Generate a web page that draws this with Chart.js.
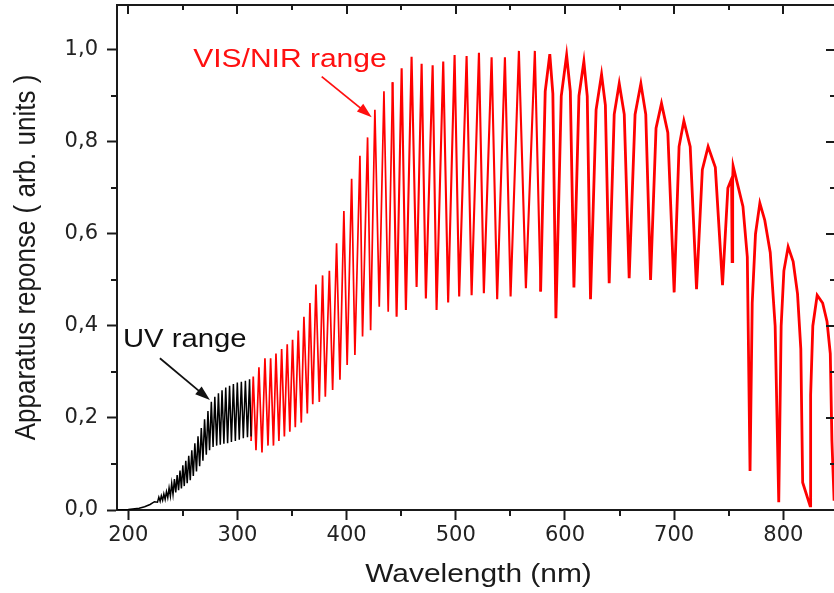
<!DOCTYPE html>
<html>
<head>
<meta charset="utf-8">
<script src="https://cdn.jsdelivr.net/npm/chart.js@4.4.0/dist/chart.umd.min.js"></script>
<style>
  html, body { margin: 0; padding: 0; background: #fff; }
  canvas { display: block; }
</style>
</head>
<body>
<canvas id="spectrum" width="834" height="593"></canvas>
<script>
"use strict"

// UV part (black), alternating fringe minima / maxima
const uvWavelength = [190, 200, 210, 215, 220, 224,
    226.8, 228, 229.2, 230.3, 231.5, 232.6, 233.8, 235, 236.2, 237.4,
    238.6, 239.8, 241, 242.3, 243.5, 244.8, 246.1, 247.4, 248.7, 250,
    251.3, 252.7, 254, 255.4, 256.8, 258.2, 259.6, 261, 262.5, 263.9,
    265.4, 266.9, 268.4, 269.9, 271.5, 273, 274.5, 276.1, 277.7, 279.3,
    281, 282.6, 284.3, 285.9, 287.6, 289.3, 291, 292.8, 294.5, 296.3,
    298.1, 299.9, 301.7, 303.6, 305.4, 307.3, 309.2, 311.1, 312.5];
const uvResponse = [0.0, 0.001, 0.004, 0.007, 0.012, 0.018,
    0.017, 0.028, 0.019, 0.031, 0.021, 0.035, 0.023, 0.04, 0.027, 0.048,
    0.03, 0.058, 0.034, 0.067, 0.038, 0.076, 0.043, 0.086, 0.047, 0.097,
    0.052, 0.107, 0.058, 0.118, 0.065, 0.13, 0.074, 0.145, 0.084, 0.16,
    0.095, 0.178, 0.107, 0.197, 0.12, 0.215, 0.13, 0.235, 0.137, 0.246,
    0.14, 0.254, 0.142, 0.26, 0.144, 0.266, 0.145, 0.27, 0.148, 0.274,
    0.15, 0.277, 0.153, 0.279, 0.156, 0.281, 0.158, 0.284, 0.16];

// VIS/NIR part (red)
const visWavelength = [
    312.5, 314.5, 317, 319.7, 322.5, 325.2, 328, 330.4, 333, 335.3,
    338, 340.5, 343, 345.6, 348, 350.5, 353, 355.7, 358.5, 360.9,
    364, 366.4, 369, 371.9, 375, 378, 380.5, 384.2, 387.2, 390.8,
    393.9, 397.5, 400.5, 404.6, 407.6, 412.2, 414.6, 419.2, 422, 425.9,
    429.9, 434.2, 438.1, 442.1, 445.8, 450.4, 454.3, 459.5, 464.1, 468.7,
    472.6, 478.8, 482.4, 488.5, 493, 498.9, 503.1, 509.9, 514.5, 521.2,
    525.7, 532.8, 537.9, 545, 550.2, 557.8, 564.2, 572.4, 577.7, 581.9,
    586.1, 588.9, 591.7, 596.6, 601.5, 604.9, 608.2, 612.8, 617.3, 620.4,
    623.4, 628.5, 633.5, 637, 640.5, 645.1, 649.7, 654.3, 658.8, 664.2,
    669.5, 674, 678.4, 683.4, 688.4, 694.2, 700, 704.5, 708.9, 714.7,
    720.5, 725.8, 731.1, 737.7, 744.3, 749.2, 752.6, 753.1, 753.6, 754,
    763, 767, 769.5, 771.5, 774.5, 778.5, 783, 788, 792.5, 795.8,
    798, 800.5, 804.4, 809, 813, 816, 817.7, 824.5, 825, 827,
    831, 836, 840, 843, 844.5, 846.5];
const visResponse = [
    0.15, 0.29, 0.13, 0.31, 0.125, 0.33, 0.14, 0.33, 0.14, 0.34,
    0.15, 0.35, 0.16, 0.36, 0.17, 0.37, 0.18, 0.39, 0.19, 0.42,
    0.21, 0.45, 0.23, 0.49, 0.235, 0.51, 0.246, 0.52, 0.261, 0.58,
    0.283, 0.65, 0.315, 0.72, 0.337, 0.77, 0.377, 0.81, 0.391, 0.87,
    0.442, 0.91, 0.431, 0.93, 0.42, 0.96, 0.435, 0.985, 0.485, 0.97,
    0.46, 0.967, 0.435, 0.975, 0.451, 0.989, 0.464, 0.987, 0.467, 0.994,
    0.471, 0.984, 0.458, 0.984, 0.464, 0.998, 0.482, 0.998, 0.475, 0.91,
    0.991, 0.905, 0.417, 0.90, 0.989, 0.91, 0.484, 0.90, 0.975, 0.90,
    0.458, 0.87, 0.947, 0.88, 0.493, 0.86, 0.927, 0.86, 0.504, 0.86,
    0.927, 0.86, 0.50, 0.83, 0.884, 0.82, 0.473, 0.79, 0.846, 0.79,
    0.48, 0.74, 0.79, 0.745, 0.489, 0.70, 0.72, 0.54, 0.72, 0.748,
    0.66, 0.55, 0.085, 0.45, 0.60, 0.667, 0.63, 0.56, 0.40, 0.017,
    0.40, 0.52, 0.572, 0.54, 0.47, 0.35, 0.06, 0.009, 0.25, 0.40,
    0.467, 0.45, 0.41, 0.34, 0.15, 0.02];

const xTicks = [200, 300, 400, 500, 600, 700, 800];
const xMinorTicks = [250, 350, 450, 550, 650, 750];
const yTicks = [0, 0.2, 0.4, 0.6, 0.8, 1.0];
const yMinorTicks = [0.1, 0.3, 0.5, 0.7, 0.9];

const xTitle = "Wavelength (nm)";
const yTitle = "Apparatus reponse ( arb. units )";

// annotation anchors in data units
const uvNote = { text: "UV range", x: 195.1, y: 0.355, from: [229, 0.33], to: [274.8, 0.239] };
const visNote = { text: "VIS/NIR range", x: 259.5, y: 0.964, from: [377.2, 0.942], to: [423, 0.854] };

const axisColor = '#1a1a1a';

function toPoints(xs, ys) {
    return xs.map((v, i) => ({ x: v, y: ys[i] }));
}

// text in the picture is drawn a bit wide, so stretch it horizontally
function wideText(ctx, text, x, y, sx, font, color, align) {
    ctx.save();
    ctx.translate(x, y);
    ctx.scale(sx, 1);
    ctx.font = font;
    ctx.fillStyle = color;
    ctx.textAlign = align || 'left';
    ctx.textBaseline = 'alphabetic';
    ctx.fillText(text, 0, 0);
    ctx.restore();
}

function arrow(ctx, x1, y1, x2, y2, color) {
    let ang = Math.atan2(y2 - y1, x2 - x1);
    let len = 15, half = 5;
    ctx.save();
    ctx.strokeStyle = color;
    ctx.fillStyle = color;
    ctx.lineWidth = 1.8;
    ctx.beginPath();
    ctx.moveTo(x1, y1);
    ctx.lineTo(x2 - Math.cos(ang) * len * 0.8, y2 - Math.sin(ang) * len * 0.8);
    ctx.stroke();
    ctx.beginPath();
    ctx.moveTo(x2, y2);
    ctx.lineTo(x2 - Math.cos(ang) * len - Math.sin(ang) * half, y2 - Math.sin(ang) * len + Math.cos(ang) * half);
    ctx.lineTo(x2 - Math.cos(ang) * len + Math.sin(ang) * half, y2 - Math.sin(ang) * len - Math.cos(ang) * half);
    ctx.closePath();
    ctx.fill();
    ctx.restore();
}

const framePlugin = {
    id: 'frame',
    afterDraw(chart) {
        const ctx = chart.ctx;
        const a = chart.chartArea;
        const xs = chart.scales.x, ys = chart.scales.y;
        ctx.save();
        ctx.strokeStyle = axisColor;
        ctx.lineWidth = 2;
        ctx.beginPath();
        // top and right border
        ctx.moveTo(a.left - 1, a.top);
        ctx.lineTo(a.right + 1, a.top);
        ctx.moveTo(a.right + 1, a.top);
        ctx.lineTo(a.right + 1, a.bottom);
        // top ticks inward, bottom minor ticks outward
        xTicks.forEach(v => {
            let px = Math.round(xs.getPixelForValue(v));
            ctx.moveTo(px, a.top); ctx.lineTo(px, a.top + 9);
        });
        xMinorTicks.forEach(v => {
            let px = Math.round(xs.getPixelForValue(v));
            ctx.moveTo(px, a.top); ctx.lineTo(px, a.top + 5);
            ctx.moveTo(px, a.bottom); ctx.lineTo(px, a.bottom + 6);
        });
        // right ticks inward, left minor ticks outward
        yTicks.forEach(v => {
            let py = Math.round(ys.getPixelForValue(v));
            ctx.moveTo(a.right, py); ctx.lineTo(a.right - 8, py);
        });
        yMinorTicks.forEach(v => {
            let py = Math.round(ys.getPixelForValue(v));
            ctx.moveTo(a.right, py); ctx.lineTo(a.right - 4, py);
            ctx.moveTo(a.left, py); ctx.lineTo(a.left - 6, py);
        });
        ctx.stroke();

        // axis titles
        wideText(ctx, xTitle, (a.left + a.right) / 2 + 3, 582, 1.15, '26px "Liberation Sans", Arial, sans-serif', axisColor, 'center');
        ctx.save();
        ctx.translate(35, (a.top + a.bottom) / 2);
        ctx.scale(1.17, 1);
        ctx.rotate(-Math.PI / 2);
        ctx.font = '26px "Liberation Sans", Arial, sans-serif';
        ctx.fillStyle = axisColor;
        ctx.textAlign = 'center';
        ctx.textBaseline = 'alphabetic';
        ctx.fillText(yTitle, 0, 0);
        ctx.restore();

        // notes with arrows
        wideText(ctx, uvNote.text, xs.getPixelForValue(uvNote.x), ys.getPixelForValue(uvNote.y), 1.17,
            '25px "Liberation Sans", Arial, sans-serif', '#111', 'left');
        arrow(ctx, xs.getPixelForValue(uvNote.from[0]), ys.getPixelForValue(uvNote.from[1]),
            xs.getPixelForValue(uvNote.to[0]), ys.getPixelForValue(uvNote.to[1]), '#111');
        wideText(ctx, visNote.text, xs.getPixelForValue(visNote.x), ys.getPixelForValue(visNote.y), 1.2,
            '25px "Liberation Sans", Arial, sans-serif', '#ff1010', 'left');
        arrow(ctx, xs.getPixelForValue(visNote.from[0]), ys.getPixelForValue(visNote.from[1]),
            xs.getPixelForValue(visNote.to[0]), ys.getPixelForValue(visNote.to[1]), '#ff1010');
        ctx.restore();
    }
};

let ctx = document.getElementById('spectrum');

let spectrumChart = new Chart(ctx, {
    type: 'line',
    data: {
        datasets: [{
            label: 'UV range',
            data: toPoints(uvWavelength, uvResponse),
            borderColor: '#000000',
            borderWidth: 1.5,
            pointRadius: 0,
            fill: false
        }, {
            label: 'VIS/NIR range',
            data: toPoints(visWavelength, visResponse),
            borderColor: '#ff0000',
            borderWidth: 1.7,
            pointRadius: 0,
            fill: false,
            segment: {
                borderWidth: c => c.p0.parsed.x > 575 ? 2.8 : (c.p0.parsed.x > 440 ? 2.1 : 1.7)
            }
        }]
    },
    options: {
        responsive: false,
        animation: false,
        devicePixelRatio: 1,
        layout: { padding: { top: 5, right: 0, left: 0, bottom: 0 } },
        plugins: {
            legend: { display: false },
            tooltip: { enabled: false }
        },
        scales: {
            x: {
                type: 'linear',
                min: 189.7,
                max: 846.4,
                afterBuildTicks: s => { s.ticks = xTicks.map(v => ({ value: v })); },
                afterFit: s => { s.height = 83; s.paddingLeft = 0; s.paddingRight = 0; },
                grid: { display: true, drawOnChartArea: false, drawTicks: true, tickLength: 10, tickWidth: 2, tickColor: axisColor },
                border: { display: true, width: 2, color: axisColor },
                ticks: {
                    autoSkip: false,
                    maxRotation: 0,
                    padding: 3,
                    color: '#222',
                    font: { family: 'DejaVu Sans', size: 21 }
                }
            },
            y: {
                type: 'linear',
                min: 0,
                max: 1.0978,
                afterBuildTicks: s => { s.ticks = yTicks.map(v => ({ value: v })); },
                afterFit: s => { s.width = 117; s.paddingTop = 0; s.paddingBottom = 0; },
                grid: { display: true, drawOnChartArea: false, drawTicks: true, tickLength: 10, tickWidth: 2, tickColor: axisColor },
                border: { display: true, width: 2, color: axisColor },
                ticks: {
                    padding: 9,
                    color: '#222',
                    font: { family: 'DejaVu Sans', size: 21 },
                    callback: v => v.toFixed(1).replace('.', ',')
                }
            }
        }
    },
    plugins: [framePlugin]
});
</script>
</body>
</html>
